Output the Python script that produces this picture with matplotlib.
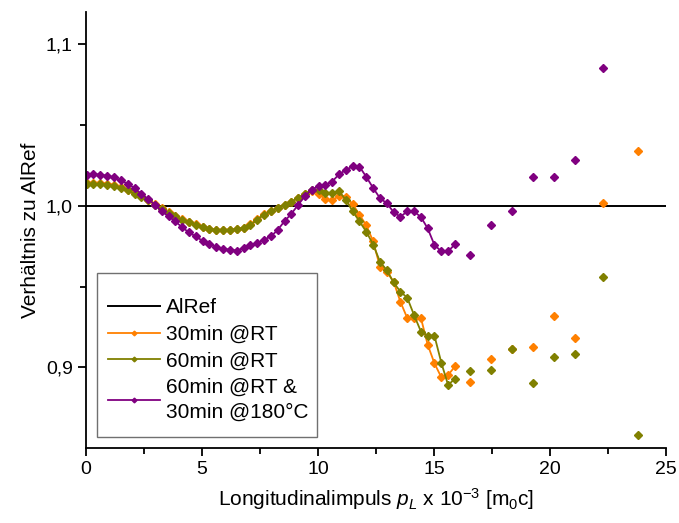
import matplotlib
matplotlib.use("Agg")
import matplotlib.pyplot as plt
from matplotlib.patches import Rectangle
from matplotlib.ticker import FixedLocator, FuncFormatter

plt.rcParams['font.family'] = ['Liberation Sans', 'DejaVu Sans']
plt.rcParams['font.size'] = 14
plt.rcParams['mathtext.fontset'] = 'custom'
plt.rcParams['mathtext.rm'] = 'Liberation Sans'
plt.rcParams['mathtext.it'] = 'Liberation Sans:italic'

# momentum bins (dense part, connected)
p_dense = [0.03, 0.32, 0.62, 0.91, 1.21, 1.50, 1.79, 2.09, 2.38, 2.68, 2.97,
           3.26, 3.56, 3.85, 4.15, 4.44, 4.73, 5.03, 5.32, 5.62, 5.91, 6.20,
           6.50, 6.79, 7.09, 7.38, 7.67, 7.97, 8.26, 8.56, 8.85, 9.14, 9.44,
           9.73, 10.03, 10.32, 10.61, 10.91, 11.20, 11.50, 11.79, 12.08, 12.38,
           12.67, 12.97, 13.26, 13.55, 13.85, 14.14, 14.44, 14.73, 15.02, 15.32,
           15.61, 15.91]

rt30 = [1.0142, 1.0143, 1.0143, 1.0138, 1.0130, 1.0118, 1.0100, 1.0080, 1.0058,
        1.0037, 1.0010, 0.9985, 0.9960, 0.9938, 0.9918, 0.9900, 0.9885, 0.9868,
        0.9857, 0.9852, 0.9852, 0.9852, 0.9857, 0.9865, 0.9887, 0.9918, 0.9950,
        0.9970, 0.9988, 1.0005, 1.0025, 1.0050, 1.0072, 1.0090, 1.0075, 1.0040,
        1.0033, 1.0062, 1.0055, 1.0010, 0.9944, 0.9880, 0.9780, 0.9624, 0.9593,
        0.9530, 0.9407, 0.9304, 0.9304, 0.9304, 0.9140, 0.9025, 0.8937, 0.8952,
        0.9006]

rt60 = [1.0134, 1.0135, 1.0136, 1.0130, 1.0124, 1.0112, 1.0095, 1.0075, 1.0055,
        1.0035, 1.0008, 0.9982, 0.9957, 0.9935, 0.9913, 0.9897, 0.9882, 0.9866,
        0.9855, 0.9851, 0.9851, 0.9851, 0.9855, 0.9862, 0.9882, 0.9913, 0.9945,
        0.9965, 0.9985, 1.0005, 1.0025, 1.0050, 1.0075, 1.0098, 1.0095, 1.0082,
        1.0080, 1.0090, 1.0037, 0.9965, 0.9903, 0.9840, 0.9760, 0.9655, 0.9600,
        0.9525, 0.9469, 0.9430, 0.9324, 0.9221, 0.9196, 0.9196, 0.9027, 0.8890,
        0.8930]

rt60_180 = [1.0193, 1.0196, 1.0193, 1.0186, 1.0176, 1.0157, 1.0136, 1.0110,
            1.0074, 1.0041, 1.0006, 0.9966, 0.9934, 0.9903, 0.9866, 0.9835,
            0.9810, 0.9783, 0.9762, 0.9744, 0.9735, 0.9727, 0.9723, 0.9738,
            0.9758, 0.9769, 0.9790, 0.9810, 0.9850, 0.9905, 0.9950, 1.0005,
            1.0060, 1.0100, 1.0122, 1.0130, 1.0150, 1.0195, 1.0222, 1.0244,
            1.0242, 1.0180, 1.0110, 1.0048, 1.0015, 0.9961, 0.9932, 0.9965,
            0.9965, 0.9930, 0.9860, 0.9758, 0.9717, 0.9718, 0.9762]

# wider bins at high momentum (points only)
p_sparse = [16.55, 17.46, 18.35, 19.25, 20.16, 21.06, 22.27, 23.78]
rt30_sp = [0.8907, 0.9050, 0.9111, 0.9128, 0.9320, 0.9180, 1.0017, 1.0337]
rt60_sp = [0.8979, 0.8983, 0.9111, 0.8903, 0.9062, 0.9084, 0.9558, 0.8582]
p_sparse_180 = [16.55, 17.46, 18.35, 19.25, 20.16, 21.06, 22.27]
rt60_180_sp = [0.9696, 0.9882, 0.9969, 1.0176, 1.0180, 1.0283, 1.0854]

labels = ["AlRef", "30min @RT", "60min @RT", "60min @RT &\n30min @180°C"]
colors = ["black", "#FF8000", "#808000", "#800080"]

fig = plt.figure(figsize=(6.79, 5.23), dpi=100)
ax = fig.add_axes([0.1267, 0.1434, 0.854, 0.8336])

ax.axhline(1.0, color=colors[0], lw=1.4, label=labels[0])
series = [(rt30, p_sparse, rt30_sp), (rt60, p_sparse, rt60_sp),
          (rt60_180, p_sparse_180, rt60_180_sp)]
for i, (dense, px, sp) in enumerate(series):
    c = colors[i + 1]
    ax.plot(p_dense, dense, color=c, lw=1.3, marker='D', ms=4.0, label=labels[i + 1])
    ax.plot(px, sp, color=c, ls='none', marker='D', ms=4.0)

ax.set_xlim(0, 25)
ax.set_ylim(0.85, 1.12)
ax.spines['top'].set_visible(False)
ax.spines['right'].set_visible(False)
for s in ['left', 'bottom']:
    ax.spines[s].set_linewidth(1.3)

ax.xaxis.set_major_locator(FixedLocator([0, 5, 10, 15, 20, 25]))
ax.xaxis.set_minor_locator(FixedLocator([2.5, 7.5, 12.5, 17.5, 22.5]))
ax.yaxis.set_major_locator(FixedLocator([0.9, 1.0, 1.1]))
ax.yaxis.set_minor_locator(FixedLocator([0.95, 1.05]))
ax.yaxis.set_major_formatter(FuncFormatter(lambda v, pos: ("%.1f" % v).replace('.', ',')))
ax.tick_params(which='major', direction='out', length=6, width=1.3, labelsize=14)
ax.tick_params(which='minor', direction='out', length=4, width=1.3)

ax.set_xlabel("Longitudinalimpuls $p_L$ x 10$^{\\mathrm{-3}}$ [m$_\\mathrm{0}$c]", fontsize=15, labelpad=6)
ax.set_ylabel("Verhältnis zu AlRef", fontsize=15, labelpad=4)

ax.add_patch(Rectangle((0.019, 0.025), 0.379, 0.376, transform=ax.transAxes,
                       fill=False, edgecolor='#707070', lw=1.0, zorder=5))
leg = ax.legend(loc='upper left', bbox_to_anchor=(0.038, 0.343), frameon=False,
                borderpad=0, borderaxespad=0, handlelength=2.5, handletextpad=0.3,
                labelspacing=0.36, markerscale=0.6, fontsize=15)
for t in leg.get_texts():
    t.set_linespacing(1.4)

fig.savefig("out.png", dpi=100)
